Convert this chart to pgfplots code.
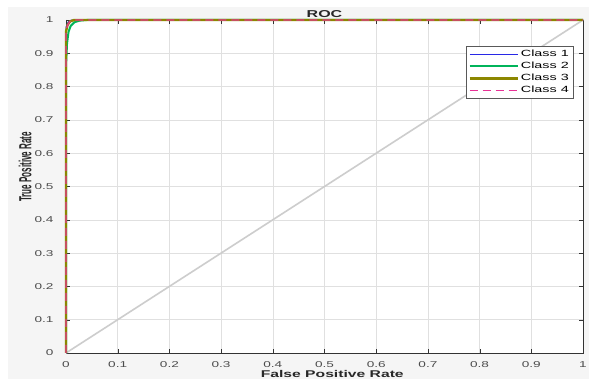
\documentclass[border=0pt]{standalone}
\usepackage{pgfplots}
\pgfplotsset{compat=1.18}
\usepackage{fontspec}
\setmainfont{Liberation Sans}[FakeStretch=1.6]
\newfontfamily\yfont{Liberation Sans}[FakeStretch=0.46]
\definecolor{bgc}{RGB}{245,245,245}
\definecolor{c1}{RGB}{40,40,230}
\definecolor{c2}{RGB}{0,180,90}
\definecolor{c3}{RGB}{140,135,0}
\definecolor{c4}{RGB}{232,50,150}
\definecolor{diag}{RGB}{205,205,205}
\definecolor{tk}{RGB}{75,75,75}
\definecolor{lb}{RGB}{40,40,40}
\begin{document}
\begin{tikzpicture}[x=1pt,y=1pt]
\fill[white] (0,0) rectangle (589,379);
\fill[bgc] (8,0) rectangle (589,372);
\path[use as bounding box] (0,0) rectangle (589,379);
\begin{axis}[
  at={(66pt,26pt)}, anchor=south west,
  scale only axis, width=517pt, height=333pt,
  xmin=0, xmax=1, ymin=0, ymax=1,
  clip=false,
  xtick={0,0.1,...,1}, ytick={0,0.1,...,1},
  xticklabels={0,0.1,0.2,0.3,0.4,0.5,0.6,0.7,0.8,0.9,1},
  yticklabels={0,0.1,0.2,0.3,0.4,0.5,0.6,0.7,0.8,0.9,1},
  grid=major, grid style={draw=black!12, line width=0.5pt},
  axis background/.style={fill=white},
  axis line style={draw=black!80, line width=0.7pt},
  major tick length=4pt,
  tick style={draw=black!80},
  tick label style={font=\fontsize{8.5}{9}\selectfont, text=tk},
  xticklabel style={anchor=center, yshift=-12pt},
  yticklabel style={anchor=east, xshift=-9pt},
  title={\bfseries ROC}, title style={font=\fontsize{10}{11}\selectfont, at={(axis description cs:0.5,1.0)}, anchor=center, text=lb},
  xlabel={\bfseries False Positive Rate}, xlabel style={font=\fontsize{9.8}{10}\selectfont, at={(axis description cs:0.515,-0.063)}, anchor=center, text=lb},
  ylabel={\bfseries True Positive Rate}, ylabel style={font=\yfont\fontsize{17.5}{18}\selectfont, at={(axis description cs:-0.079,0.559)}, anchor=center, text=lb},
  legend style={at={(0.981,0.922)}, anchor=north east, font=\fontsize{9}{9.5}\selectfont, draw=black!65, inner sep=2pt, row sep=0pt, fill=white, line width=0.6pt},
  legend cell align=left,
  legend image code/.code={\draw[#1] (0pt,0pt) -- (48pt,0pt);},
]
\addplot[diag, line width=1.6pt, forget plot] coordinates {(0,0) (1,1)};
\addplot[draw=c1, line width=0.6pt] coordinates {(0,0) (0,0.98) (0.004,0.995) (0.01,1) (1,1)};
\addlegendentry{Class 1}
\addplot[draw=c2, line width=2pt] coordinates {(0,0) (0,0.86) (0.002,0.93) (0.005,0.965) (0.009,0.982) (0.016,0.993) (0.026,0.998) (0.04,1) (1,1)};
\addlegendentry{Class 2}
\addplot[draw=c3, line width=2.4pt] coordinates {(0,0) (0,0.965) (0.003,0.985) (0.008,0.996) (0.016,1) (1,1)};
\addlegendentry{Class 3}
\addplot[draw=c4, line width=1.2pt, dash pattern=on 8pt off 5pt] coordinates {(0,0) (0,0.965) (0.003,0.985) (0.008,0.996) (0.016,1) (1,1)};
\addlegendentry{Class 4}
\end{axis}
\end{tikzpicture}
\end{document}
